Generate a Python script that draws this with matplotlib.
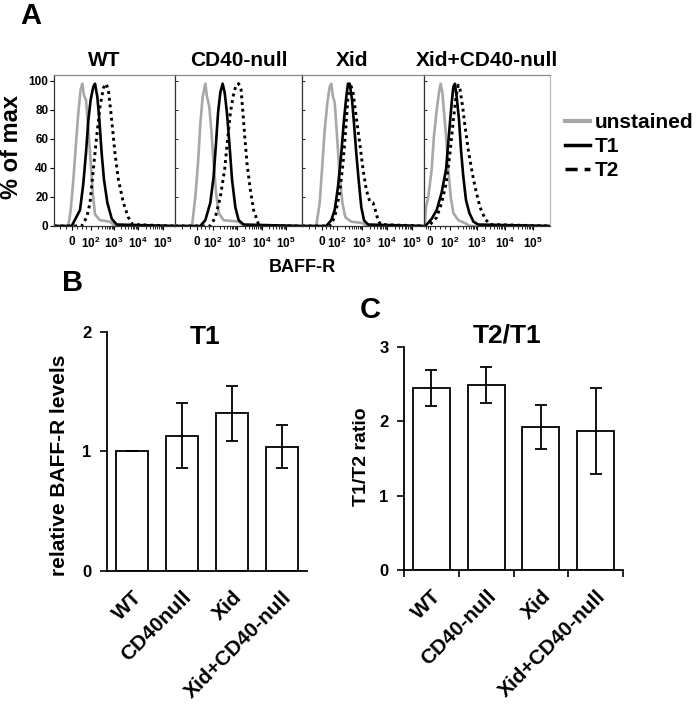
import numpy as np
import matplotlib.pyplot as plt
from matplotlib.lines import Line2D

plt.rcParams['font.family'] = ['Liberation Sans', 'DejaVu Sans']
plt.rcParams['font.weight'] = 'bold'
plt.rcParams['axes.labelweight'] = 'bold'
plt.rcParams['mathtext.fontset'] = 'custom'
plt.rcParams['mathtext.rm'] = 'Liberation Sans:bold'
plt.rcParams['mathtext.bf'] = 'Liberation Sans:bold'
plt.rcParams['mathtext.it'] = 'Liberation Sans:bold'

# ---- A: BAFF-R histograms, x = channel (0-1000), y = % of max
hist_titles = ['WT', 'CD40-null', 'Xid', 'Xid+CD40-null']
decade_labels = ['0', '$10^2$', '$10^3$', '$10^4$', '$10^5$']

wt_ticks = [149, 306, 496, 694, 901]
wt_unst_x = [0, 118, 138, 160, 182, 201, 220, 234, 248, 264, 278, 298, 320, 339, 380, 463, 504, 1000]
wt_unst_y = [0, 0, 11, 32, 57, 78, 94, 98, 90, 87, 73, 50, 23, 8, 4, 3, 0, 0]
wt_t1_x = [0, 146, 215, 242, 264, 284, 303, 325, 339, 358, 375, 394, 413, 441, 477, 518, 1000]
wt_t1_y = [0, 0, 11, 29, 50, 73, 87, 96, 98, 89, 73, 50, 32, 16, 5, 1, 0]
wt_t2_x = [0, 229, 270, 298, 325, 353, 380, 408, 430, 449, 477, 504, 532, 573, 614, 650, 1000]
wt_t2_y = [0, 0, 6, 16, 39, 62, 82, 95, 98, 94, 73, 50, 32, 16, 6, 1, 0]

cd40_ticks = [173, 299, 488, 685, 874]
cd40_unst_x = [0, 134, 160, 181, 200, 218, 239, 252, 270, 286, 304, 323, 344, 383, 501, 541, 1000]
cd40_unst_y = [0, 0, 20, 43, 71, 89, 98, 89, 82, 66, 43, 23, 9, 4, 3, 0, 0]
cd40_t1_x = [0, 199, 239, 278, 304, 323, 339, 357, 375, 391, 409, 428, 449, 475, 501, 541, 1000]
cd40_t1_y = [0, 0, 4, 16, 34, 57, 78, 92, 98, 92, 78, 57, 32, 13, 4, 1, 0]
cd40_t2_x = [0, 278, 318, 357, 391, 417, 436, 457, 480, 501, 520, 533, 549, 567, 593, 619, 654, 664, 1000]
cd40_t2_y = [0, 0, 6, 20, 39, 62, 78, 89, 97, 98, 94, 80, 62, 43, 25, 11, 2, 0, 0]

xid_ticks = [164, 287, 492, 697, 902]
xid_unst_x = [0, 117, 145, 164, 186, 208, 227, 240, 254, 268, 287, 309, 331, 355, 404, 500, 527, 1000]
xid_unst_y = [0, 0, 16, 39, 66, 85, 96, 98, 89, 85, 62, 34, 16, 6, 3, 2, 0, 0]
xid_t1_x = [0, 199, 240, 268, 295, 322, 344, 363, 377, 391, 410, 426, 445, 464, 486, 508, 541, 1000]
xid_t1_y = [0, 0, 4, 11, 27, 50, 73, 89, 98, 98, 87, 71, 50, 32, 13, 4, 1, 0]
xid_t2_x = [0, 227, 268, 309, 336, 358, 377, 396, 418, 437, 459, 481, 500, 527, 555, 582, 601, 623, 645, 1000]
xid_t2_y = [0, 0, 6, 23, 43, 66, 89, 98, 92, 80, 66, 52, 39, 25, 17, 16, 11, 4, 1, 0]

dbl_ticks = [48, 206, 421, 643, 865]
dbl_unst_x = [8, 16, 34, 61, 79, 101, 119, 132, 146, 159, 175, 193, 212, 233, 272, 325, 365, 1000]
dbl_unst_y = [2, 13, 20, 39, 62, 80, 92, 98, 92, 78, 62, 39, 20, 9, 4, 2, 0, 0]
dbl_t1_x = [0, 21, 61, 101, 140, 175, 201, 220, 233, 246, 259, 278, 294, 312, 333, 360, 392, 431, 1000]
dbl_t1_y = [0, 1, 5, 11, 23, 39, 66, 85, 96, 98, 89, 73, 52, 34, 18, 9, 3, 1, 0]
dbl_t2_x = [0, 48, 101, 140, 175, 206, 233, 254, 272, 286, 307, 325, 352, 378, 405, 444, 484, 524, 1000]
dbl_t2_y = [0, 1, 6, 16, 29, 50, 73, 89, 97, 94, 82, 69, 52, 39, 27, 13, 5, 1, 0]

# ---- B: relative BAFF-R levels on T1
t1_groups = ['WT', 'CD40null', 'Xid', 'Xid+CD40-null']
t1_mean = [1.0, 1.13, 1.32, 1.04]
t1_err = [0.0, 0.27, 0.23, 0.18]

# ---- C: T2/T1 ratio
ratio_groups = ['WT', 'CD40-null', 'Xid', 'Xid+CD40-null']
ratio_mean = [2.45, 2.49, 1.92, 1.87]
ratio_err = [0.24, 0.24, 0.30, 0.58]

fig = plt.figure(figsize=(6.97, 7.04), dpi=100)
W, H = 697.0, 704.0

panels = [
    (wt_ticks, wt_unst_x, wt_unst_y, wt_t1_x, wt_t1_y, wt_t2_x, wt_t2_y),
    (cd40_ticks, cd40_unst_x, cd40_unst_y, cd40_t1_x, cd40_t1_y, cd40_t2_x, cd40_t2_y),
    (xid_ticks, xid_unst_x, xid_unst_y, xid_t1_x, xid_t1_y, xid_t2_x, xid_t2_y),
    (dbl_ticks, dbl_unst_x, dbl_unst_y, dbl_t1_x, dbl_t1_y, dbl_t2_x, dbl_t2_y),
]
lefts = [54, 175, 302, 424]
widths = [121, 127, 122, 126]
title_dx = [-10, 0, -11, 0]

for i, (ticks, ux, uy, ax1, ay1, ax2, ay2) in enumerate(panels):
    ax = fig.add_axes([lefts[i] / W, 1 - 226 / H, widths[i] / W, 151 / H])
    ax.plot(ux, uy, color='#a8a8a8', lw=1.9)
    ax.plot(ax1, ay1, color='black', lw=1.9)
    ax.plot(ax2, ay2, color='black', lw=2.1, linestyle=(0, (1, 1.3)))
    ax.set_xlim(0, 1000)
    ax.set_ylim(0, 104)
    ax.set_xticks(ticks)
    ax.set_xticklabels(decade_labels, fontsize=8.5)
    # minor log ticks between decades
    minor = []
    for a, b in zip(ticks[1:-1], ticks[2:]):
        minor += [a + np.log10(k) * (b - a) for k in range(2, 10)]
    minor += list(np.linspace(ticks[0], ticks[1], 5)[1:-1])
    minor += list(np.linspace(0, ticks[0], 4)[1:-1])
    ax.set_xticks(minor, minor=True)
    ax.tick_params(axis='x', which='major', length=3, width=0.8, pad=4)
    ax.tick_params(axis='x', which='minor', length=2, width=0.6)
    ax.set_yticks([0, 20, 40, 60, 80, 100])
    if i == 0:
        ax.set_yticklabels(['0', '20', '40', '60', '80', '100'], fontsize=8.5)
        ax.tick_params(axis='y', length=3, width=0.8, pad=1)
    else:
        ax.set_yticklabels([])
        ax.tick_params(axis='y', direction='in', length=2, width=0.6)
    for s in ax.spines.values():
        s.set_color('#333333')
        s.set_linewidth(0.9)
    ax.spines['top'].set_color('#888888')
    ax.spines['right'].set_color('#bbbbbb')
    cx = (lefts[i] + widths[i] / 2 + title_dx[i]) / W
    fig.text(cx, 1 - 60 / H, hist_titles[i], ha='center', va='center', fontsize=15)

fig.text(12 / W, 1 - 147 / H, '% of max', rotation=90, ha='center', va='center', fontsize=17)
fig.text(302 / W, 1 - 267 / H, 'BAFF-R', ha='center', va='center', fontsize=13)

handles = [Line2D([], [], color='#a8a8a8', lw=3),
           Line2D([], [], color='black', lw=2.5),
           Line2D([], [], color='black', lw=2.5, linestyle=(0, (3.5, 2)))]
fig.legend(handles, ['unstained', 'T1', 'T2'], loc='upper left',
           bbox_to_anchor=(565 / W, 1 - 113 / H), frameon=False, fontsize=15,
           handlelength=1.2, handletextpad=0.25, labelspacing=0.25, borderpad=0,
           borderaxespad=0)

# ---- panel B
axb = fig.add_axes([107 / W, 1 - 571 / H, 200 / W, 239.3 / H])
xb = np.arange(len(t1_groups))
axb.bar(xb, t1_mean, width=0.64, color='white', edgecolor='black', linewidth=1.3, zorder=2)
axb.errorbar(xb, t1_mean, yerr=t1_err, fmt='none', ecolor='black', elinewidth=1.3,
             capsize=4.5, capthick=1.3, zorder=3)
axb.set_xlim(-0.5, 3.5)
axb.set_ylim(0, 2)
axb.set_yticks([0, 1, 2])
axb.set_yticklabels(['0', '1', '2'], fontsize=12)
axb.set_xticks(xb)
axb.set_xticklabels(t1_groups, rotation=45, ha='right', rotation_mode='anchor', fontsize=15)
axb.tick_params(axis='x', length=0, pad=12)
axb.tick_params(axis='y', length=5, width=1.2, pad=6)
axb.spines['top'].set_visible(False)
axb.spines['right'].set_visible(False)
for s in ['left', 'bottom']:
    axb.spines[s].set_linewidth(1.3)
axb.set_ylabel('relative BAFF-R levels', fontsize=15, labelpad=10)
axb.yaxis.label.set_y(0.44)
axb.text(0.49, 0.978, 'T1', transform=axb.transAxes, ha='center', va='center', fontsize=19)

# ---- panel C
axc = fig.add_axes([404 / W, 1 - 570 / H, 219 / W, 223.3 / H])
xc = np.arange(len(ratio_groups))
axc.bar(xc, ratio_mean, width=0.68, color='white', edgecolor='black', linewidth=1.3, zorder=2)
axc.errorbar(xc, ratio_mean, yerr=ratio_err, fmt='none', ecolor='black', elinewidth=1.3,
             capsize=4.5, capthick=1.3, zorder=3)
axc.set_xlim(-0.5, 3.5)
axc.set_ylim(0, 3)
axc.set_yticks([0, 1, 2, 3])
axc.set_yticklabels(['0', '1', '2', '3'], fontsize=12)
axc.set_xticks(xc)
axc.set_xticklabels(ratio_groups, rotation=45, ha='right', rotation_mode='anchor', fontsize=15)
axc.set_xticks([-0.5, 0.5, 1.5, 2.5, 3.5], minor=True)
axc.tick_params(axis='x', which='major', length=0, pad=12)
axc.tick_params(axis='x', which='minor', length=5, width=1.2)
axc.tick_params(axis='y', length=5, width=1.2, pad=6)
axc.spines['top'].set_visible(False)
axc.spines['right'].set_visible(False)
for s in ['left', 'bottom']:
    axc.spines[s].set_linewidth(1.3)
axc.set_ylabel('T1/T2 ratio', fontsize=14, labelpad=7)
axc.yaxis.label.set_y(0.506)
axc.text(0.47, 1.048, 'T2/T1', transform=axc.transAxes, ha='center', va='center', fontsize=19)

# panel letters
fig.text(31 / W, 1 - 16 / H, 'A', ha='center', va='center', fontsize=21)
fig.text(73 / W, 1 - 283 / H, 'B', ha='center', va='center', fontsize=21)
fig.text(370 / W, 1 - 310 / H, 'C', ha='center', va='center', fontsize=21)

fig.savefig('out.png', dpi=100)
